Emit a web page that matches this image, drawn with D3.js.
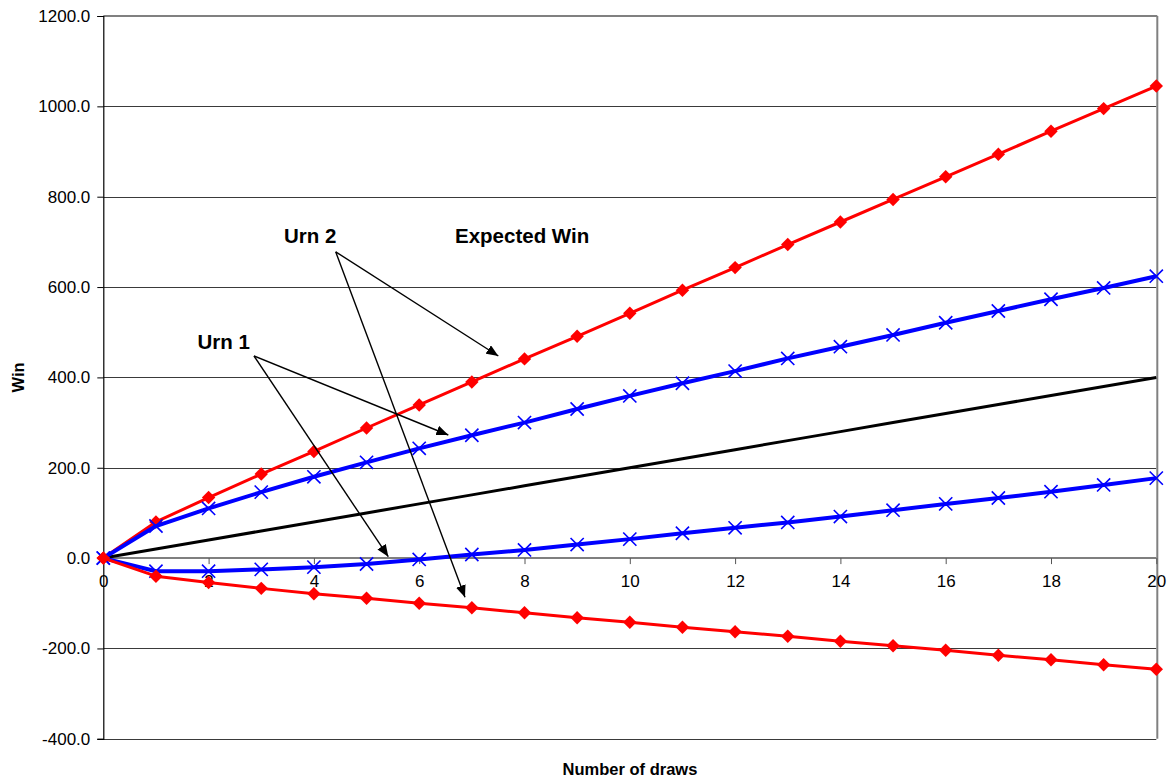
<!DOCTYPE html>
<html>
<head>
<meta charset="utf-8">
<script src="https://cdn.jsdelivr.net/npm/d3@7"></script>
<style>
  html, body { margin: 0; padding: 0; background: #fff; }
  svg { display: block; font-family: "Liberation Sans", Arial, sans-serif; }
</style>
</head>
<body>
<svg id="chart" width="1169" height="778"></svg>
<script>
// Number of draws, 0..20
const draws = [0, 1, 2, 3, 4, 5, 6, 7, 8, 9, 10, 11, 12, 13, 14, 15, 16, 17, 18, 19, 20];

// Urn 2 (red) bounds of the win
const urn2Upper = [0, 80, 134, 186, 236, 288, 339, 390, 441, 491, 542, 593, 643, 694, 744, 794, 844, 894, 945, 995, 1045];
const urn2Lower = [0, -40, -54, -67, -79, -89, -100, -110, -121, -132, -142, -153, -163, -173, -184, -194, -204, -215, -225, -236, -246];

// Urn 1 (blue) bounds of the win
const urn1Upper = [0, 71, 110, 146, 180, 212, 243, 272, 300, 330, 359, 387, 414, 442, 468, 494, 521, 547, 573, 598, 624];
const urn1Lower = [0, -29, -29, -25, -20, -13, -3, 8, 18, 30, 42, 55, 67, 79, 92, 106, 120, 133, 147, 162, 177];

// Expected win
const expectedWin = [0, 20, 40, 60, 80, 100, 120, 140, 160, 180, 200, 220, 240, 260, 280, 300, 320, 340, 360, 380, 400];

const xTicks = [0, 2, 4, 6, 8, 10, 12, 14, 16, 18, 20];
const yTicks = [-400, -200, 0, 200, 400, 600, 800, 1000, 1200];

const svg = d3.select("#chart");
const plotLeft = 103.3, plotRight = 1156.3, plotTop = 16, plotBottom = 738.8;

const x = d3.scaleLinear().domain([0, 20]).range([plotLeft, plotRight]);
const y = d3.scaleLinear().domain([-400, 1200]).range([plotBottom, plotTop]);

// plain hyphen for negative numbers
const fmt = d3.formatLocale({ decimal: ".", thousands: ",", grouping: [3], currency: ["", ""], minus: "-" });

// horizontal gridlines
svg.append("g")
  .selectAll("line")
  .data(yTicks.filter(v => v !== 1200 && v !== 0))
  .join("line")
  .attr("x1", plotLeft).attr("x2", plotRight)
  .attr("y1", d => Math.round(y(d)) + 0.5).attr("y2", d => Math.round(y(d)) + 0.5)
  .attr("stroke", "#3a3a3a").attr("stroke-width", 1);

// plot frame (top and right)
svg.append("line").attr("x1", plotLeft).attr("x2", plotRight + 1).attr("y1", plotTop).attr("y2", plotTop)
  .attr("stroke", "#808080").attr("stroke-width", 2);
svg.append("line").attr("x1", plotRight + 1).attr("x2", plotRight + 1).attr("y1", plotTop).attr("y2", plotBottom)
  .attr("stroke", "#808080").attr("stroke-width", 2);

// y axis on the left
const yAxis = d3.axisLeft(y).tickValues(yTicks).tickSize(6).tickPadding(7)
  .tickFormat(fmt.format(".1f"));
const gy = svg.append("g").attr("transform", `translate(${plotLeft},0)`).call(yAxis);
gy.select(".domain").attr("stroke", "#000").attr("stroke-width", 1.2);
gy.selectAll(".tick line").attr("stroke", "#000");
gy.selectAll(".tick text").attr("font-size", "17px").attr("fill", "#000")
  .attr("font-family", "'Liberation Sans', Arial, sans-serif");

// x axis crossing at zero
const xAxis = d3.axisBottom(x).tickValues(xTicks).tickSize(6).tickPadding(11)
  .tickFormat(fmt.format("d"));
const gx = svg.append("g").attr("transform", `translate(0,${y(0)})`).call(xAxis);
gx.select(".domain").attr("stroke", "#555").attr("stroke-width", 1.5)
  .attr("d", `M${plotLeft},0H${plotRight}`);
gx.selectAll(".tick line").attr("stroke", "#555");
gx.selectAll(".tick text").attr("font-size", "17px").attr("fill", "#000")
  .attr("font-family", "'Liberation Sans', Arial, sans-serif");

// axis titles
svg.append("text").attr("x", 630).attr("y", 774.5).attr("text-anchor", "middle")
  .attr("font-size", "16.5px").attr("font-weight", "bold").text("Number of draws");
svg.append("text").attr("transform", "translate(24,377.5) rotate(-90)").attr("text-anchor", "middle")
  .attr("font-size", "16.5px").attr("font-weight", "bold").text("Win");

// series
const line = d3.line().x((d, i) => x(draws[i])).y(d => y(d));

function drawLine(vals, color, width) {
  svg.append("path").datum(vals).attr("d", line)
    .attr("fill", "none").attr("stroke", color).attr("stroke-width", width)
    .attr("stroke-linejoin", "round");
}
function drawDiamonds(vals, color) {
  svg.append("g").selectAll("path").data(vals).join("path")
    .attr("d", d3.symbol(d3.symbolDiamond2, 115))
    .attr("transform", (d, i) => `translate(${x(draws[i])},${y(d)})`)
    .attr("fill", color);
}
function drawCrosses(vals, color) {
  svg.append("g").selectAll("path").data(vals).join("path")
    .attr("d", d3.symbol(d3.symbolTimes, 115))
    .attr("transform", (d, i) => `translate(${x(draws[i])},${y(d)})`)
    .attr("fill", "none").attr("stroke", color).attr("stroke-width", 1.6);
}

drawLine(expectedWin, "#000", 3);
drawLine(urn2Upper, "#ff0000", 3);
drawDiamonds(urn2Upper, "#ff0000");
drawLine(urn1Upper, "#0000ff", 4);
drawCrosses(urn1Upper, "#0000ff");
drawLine(urn1Lower, "#0000ff", 4);
drawCrosses(urn1Lower, "#0000ff");
drawLine(urn2Lower, "#ff0000", 3);
drawDiamonds(urn2Lower, "#ff0000");

// annotations (data coordinates)
const labels = [
  { text: "Urn 2", dx: 3.43, v: 697 },
  { text: "Expected Win", dx: 6.68, v: 697 },
  { text: "Urn 1", dx: 1.79, v: 462.5 }
];
svg.append("g").selectAll("text").data(labels).join("text")
  .attr("x", d => x(d.dx)).attr("y", d => y(d.v))
  .attr("font-size", "20.5px").attr("font-weight", "bold").text(d => d.text);

const arrows = [
  { from: [4.414, 678], to: [7.503, 447.4] },
  { from: [4.414, 678], to: [6.870, -86.8] },
  { from: [2.862, 447.4], to: [6.553, 272.5] },
  { from: [2.862, 447.4], to: [5.413, 3.1] }
];
svg.append("defs").append("marker")
  .attr("id", "head").attr("viewBox", "0 0 12 10").attr("refX", 12).attr("refY", 5)
  .attr("markerWidth", 12).attr("markerHeight", 10).attr("markerUnits", "userSpaceOnUse")
  .attr("orient", "auto")
  .append("path").attr("d", "M0,0L12,5L0,10Z").attr("fill", "#000");
svg.append("g").selectAll("line").data(arrows).join("line")
  .attr("x1", d => x(d.from[0])).attr("y1", d => y(d.from[1]))
  .attr("x2", d => x(d.to[0])).attr("y2", d => y(d.to[1]))
  .attr("stroke", "#000").attr("stroke-width", 1.4)
  .attr("marker-end", "url(#head)");
</script>
</body>
</html>
